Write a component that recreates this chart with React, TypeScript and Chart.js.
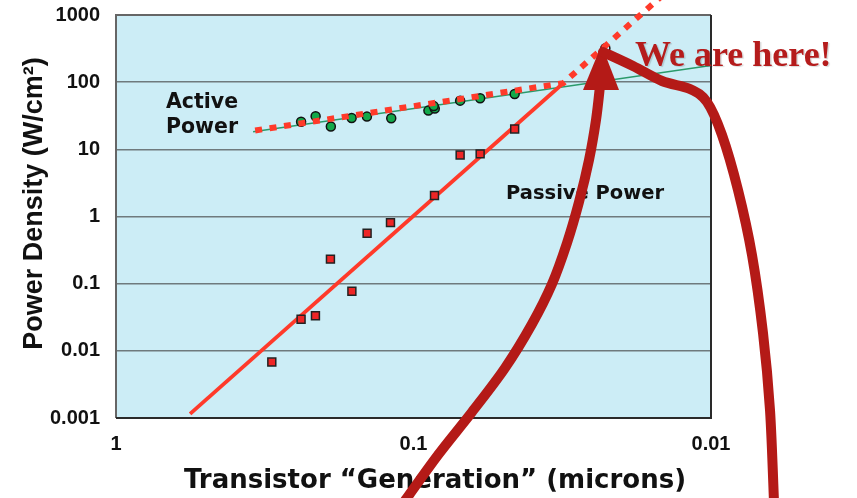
import React, { useEffect, useRef } from 'react';
import { Chart, registerables } from 'chart.js';

Chart.register(...registerables);

// ---- tick labels ----
const xTicks = [1, 0.1, 0.01];
const yTicks = [0.001, 0.01, 0.1, 1, 10, 100, 1000];

// ---- Active power (green circles) ----
const activeX = [0.2387, 0.2133, 0.1896, 0.1614, 0.1434, 0.1188, 0.0891, 0.0848, 0.0855, 0.0697, 0.0597, 0.0457];
const activeY = [25.8, 31.1, 21.9, 29.3, 30.7, 29.0, 37.7, 40.4, 44.0, 53.1, 57.5, 66.7];

// ---- Passive power (red squares) ----
const passiveX = [0.2994, 0.2387, 0.2136, 0.1902, 0.1611, 0.1432, 0.1195, 0.085, 0.0697, 0.0597, 0.0457];
const passiveY = [0.0068, 0.0296, 0.0332, 0.232, 0.0773, 0.564, 0.811, 2.05, 8.25, 8.55, 20.1];

// ---- Trend lines ----
const activeTrendX = [0.346, 0.01];
const activeTrendY = [18.3, 177];
const passiveTrendX = [0.5637, 0.0314];
const passiveTrendY = [0.00115, 96.5];
const totalTrendX = [0.3406, 0.0314, 0.0135];
const totalTrendY = [19.1, 96.5, 2630];

// ---- "We are here" point ----
const hereX = [0.02265];
const hereY = [319];

const toPts = (xs: number[], ys: number[]) => xs.map((x, i) => ({ x, y: ys[i] }));

const SANS = "'Liberation Sans', Arial, sans-serif";
const WIDE = "'DejaVu Sans', Verdana, sans-serif";
const SERIF = "'Liberation Serif', 'Times New Roman', serif";

function smoothPath(ctx: CanvasRenderingContext2D, pts: number[][]) {
  ctx.moveTo(pts[0][0], pts[0][1]);
  for (let i = 0; i < pts.length - 1; i++) {
    const p0 = pts[i - 1] || pts[i];
    const p1 = pts[i];
    const p2 = pts[i + 1];
    const p3 = pts[i + 2] || p2;
    ctx.bezierCurveTo(
      p1[0] + (p2[0] - p0[0]) / 6, p1[1] + (p2[1] - p0[1]) / 6,
      p2[0] - (p3[0] - p1[0]) / 6, p2[1] - (p3[1] - p1[1]) / 6,
      p2[0], p2[1]
    );
  }
}

export default function App() {
  const ref = useRef<HTMLCanvasElement>(null);

  useEffect(() => {
    const canvas = ref.current!;
    const decor = {
      id: 'decor',
      beforeDraw(chart: any) {
        const { ctx, chartArea: a } = chart;
        ctx.save();
        ctx.fillStyle = '#ccedf6';
        ctx.fillRect(a.left, a.top, a.right - a.left, a.bottom - a.top);
        ctx.restore();
      },
      beforeDatasetsDraw(chart: any) {
        const { ctx, chartArea: a } = chart;
        ctx.save();
        ctx.lineWidth = 2;
        ctx.strokeStyle = '#666';
        ctx.beginPath();
        ctx.moveTo(a.left, a.bottom);
        ctx.lineTo(a.left, a.top);
        ctx.lineTo(a.right, a.top);
        ctx.stroke();
        ctx.strokeStyle = '#2a2a2a';
        ctx.beginPath();
        ctx.moveTo(a.right, a.top);
        ctx.lineTo(a.right, a.bottom);
        ctx.lineTo(a.left, a.bottom);
        ctx.stroke();
        ctx.restore();
      },
      afterDraw(chart: any) {
        const { ctx } = chart;
        ctx.save();
        // In-plot labels
        ctx.fillStyle = '#111';
        ctx.textAlign = 'left';
        ctx.textBaseline = 'alphabetic';
        ctx.font = `bold 20.5px ${WIDE}`;
        ctx.fillText('Active', 166, 107.5);
        ctx.fillText('Power', 166, 132.5);
        ctx.font = `bold 19.5px ${WIDE}`;
        ctx.fillText('Passive Power', 506, 198.5);

        // Axis titles
        ctx.font = `bold 26px ${WIDE}`;
        ctx.textAlign = 'center';
        ctx.fillText('Transistor \u201cGeneration\u201d (microns)', 435, 488);
        ctx.save();
        ctx.translate(42, 203.5);
        ctx.rotate(-Math.PI / 2);
        ctx.font = `bold 27px ${SANS}`;
        ctx.fillText('Power Density (W/cm\u00b2)', 0, 0);
        ctx.restore();

        // "We are here!"
        ctx.save();
        ctx.font = `bold 36px ${SERIF}`;
        ctx.textAlign = 'left';
        ctx.fillStyle = '#b51c1c';
        ctx.shadowColor = 'rgba(0,0,0,0.15)';
        ctx.shadowOffsetX = 1.5;
        ctx.shadowOffsetY = 1.5;
        ctx.shadowBlur = 1;
        ctx.fillText('We are here!', 635, 65.5);
        ctx.restore();

        // Arrows
        const dark = '#b41a17';
        ctx.strokeStyle = dark;
        ctx.fillStyle = dark;
        ctx.lineWidth = 10;
        ctx.lineCap = 'butt';
        ctx.beginPath();
        smoothPath(ctx, [[404, 502], [438, 455], [472, 412], [505, 368], [532, 324], [552, 284], [567, 243], [579, 202], [589, 160], [596, 120], [600, 86]]);
        ctx.stroke();
        ctx.beginPath();
        ctx.moveTo(601.5, 45);
        ctx.lineTo(619, 90);
        ctx.lineTo(583, 90);
        ctx.closePath();
        ctx.fill();
        ctx.lineCap = 'round';
        ctx.beginPath();
        smoothPath(ctx, [[603, 52], [633, 66], [662, 81], [690, 89], [707, 102], [722, 135], [738, 190], [752, 255], [763, 333], [770, 410], [774, 502]]);
        ctx.stroke();
        ctx.restore();
      },
    };

    const chart = new Chart(canvas, {
      type: 'scatter',
      data: {
        datasets: [
          {
            label: 'Total',
            data: toPts(totalTrendX, totalTrendY),
            showLine: true,
            borderColor: '#ff3a2a',
            borderWidth: 6,
            borderDash: [7, 7.6],
            borderCapStyle: 'butt',
            pointRadius: 0,
            clip: false,
          },
          {
            label: 'Active Power',
            data: toPts(activeX, activeY),
            showLine: false,
            pointStyle: 'circle',
            pointRadius: 4.5,
            pointBackgroundColor: '#12a84a',
            pointBorderColor: '#111',
            pointBorderWidth: 1.5,
          },
          {
            label: 'Passive Power',
            data: toPts(passiveX, passiveY),
            showLine: false,
            pointStyle: 'rect',
            pointRadius: 5.6,
            pointBackgroundColor: '#ee2626',
            pointBorderColor: '#222',
            pointBorderWidth: 1.5,
          },
          {
            label: 'Passive trend',
            data: toPts(passiveTrendX, passiveTrendY),
            showLine: true,
            borderColor: '#ff3a2a',
            borderWidth: 3.8,
            pointRadius: 0,
          },
          {
            label: 'Active trend',
            data: toPts(activeTrendX, activeTrendY),
            showLine: true,
            borderColor: '#2a9a6a',
            borderWidth: 1.5,
            pointRadius: 0,
          },
          {
            label: 'Here',
            data: toPts(hereX, hereY),
            showLine: false,
            pointRadius: 4.5,
            pointBackgroundColor: 'rgba(0,0,0,0)',
            pointBorderColor: '#111',
            pointBorderWidth: 1.5,
            clip: false,
          },
        ],
      },
      options: {
        animation: false,
        responsive: false,
        layout: { padding: { top: 15, right: 146, left: 0, bottom: 0 } },
        plugins: { legend: { display: false }, tooltip: { enabled: false } },
        scales: {
          x: {
            type: 'logarithmic',
            position: 'bottom',
            min: 0.01,
            max: 1,
            reverse: true,
            afterBuildTicks: (s: any) => { s.ticks = xTicks.map((v) => ({ value: v })); },
            afterFit: (s: any) => { s.height = 80; s.paddingLeft = 0; s.paddingRight = 0; },
            grid: { display: false, drawTicks: false },
            border: { display: false },
            ticks: {
              autoSkip: false,
              maxRotation: 0,
              padding: 14,
              color: '#111',
              font: { family: SANS, size: 20, weight: 'bold' },
              callback: (v: any) => String(v),
            },
          },
          y: {
            type: 'logarithmic',
            min: 0.001,
            max: 1000,
            afterBuildTicks: (s: any) => { s.ticks = yTicks.map((v) => ({ value: v })); },
            afterFit: (s: any) => { s.width = 116; s.paddingTop = 0; s.paddingBottom = 0; },
            grid: { color: '#6f7a7d', lineWidth: 1.5, drawTicks: false },
            border: { display: false },
            ticks: {
              autoSkip: false,
              padding: 16,
              color: '#111',
              font: { family: SANS, size: 20, weight: 'bold' },
              callback: (v: any) => String(v),
            },
          },
        },
      } as any,
      plugins: [decor],
    });
    return () => chart.destroy();
  }, []);

  return (
    <div style={{ position: 'fixed', left: 0, top: 0, width: 857, height: 498, background: '#fff' }}>
      <canvas ref={ref} width={857} height={498} style={{ display: 'block' }} />
    </div>
  );
}
